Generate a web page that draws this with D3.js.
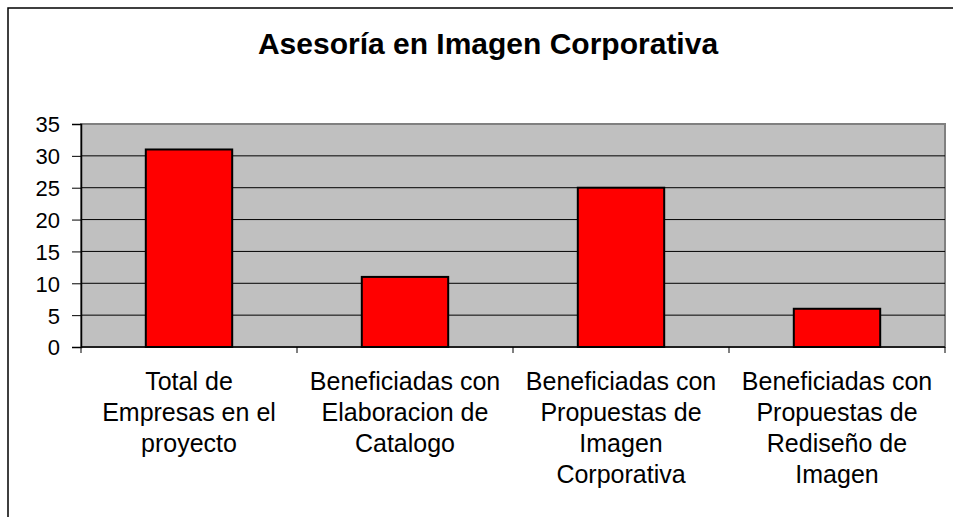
<!DOCTYPE html>
<html lang="es">
  <head>
    <meta charset="UTF-8" />
    <script src="https://d3js.org/d3.v7.min.js"></script>
    <style>
      body { margin: 0; background: #fff; }
      text { font-family: "Liberation Sans", Arial, sans-serif; fill: #000; }
    </style>
    <title>Asesoría en Imagen Corporativa</title>
  </head>
  <body>
    <svg id="chart" width="953" height="517"></svg>
    <script>
      // data
      const categories = [
        ["Total de", "Empresas en el", "proyecto"],
        ["Beneficiadas con", "Elaboracion de", "Catalogo"],
        ["Beneficiadas con", "Propuestas de", "Imagen", "Corporativa"],
        ["Beneficiadas con", "Propuestas de", "Rediseño de", "Imagen"],
      ];
      const values = [31, 11, 25, 6];
      const yTicks = [0, 5, 10, 15, 20, 25, 30, 35];
      const title = "Asesoría en Imagen Corporativa";

      const svg = d3.select("#chart");
      const plot = { left: 81, right: 945, top: 124, bottom: 347 };

      // outer chart border (right/bottom edges fall outside the picture)
      svg.append("rect")
        .attr("x", 8).attr("y", 8)
        .attr("width", 980).attr("height", 540)
        .attr("fill", "#fff")
        .attr("stroke", "#000")
        .attr("stroke-width", 1.5);

      svg.append("text")
        .attr("x", 488).attr("y", 54)
        .attr("text-anchor", "middle")
        .style("font-size", "30px")
        .style("font-weight", "bold")
        .text(title);

      const keys = categories.map((d, i) => i);
      const x = d3.scaleBand().domain(keys).range([plot.left, plot.right]).padding(0);
      const y = d3.scaleLinear().domain([0, 35]).range([plot.bottom, plot.top]);

      // plot area
      svg.append("rect")
        .attr("x", plot.left).attr("y", plot.top)
        .attr("width", plot.right - plot.left)
        .attr("height", plot.bottom - plot.top)
        .attr("fill", "#c0c0c0")
        .attr("stroke", "#808080")
        .attr("stroke-width", 2);

      // gridlines
      svg.append("g")
        .selectAll("line")
        .data(yTicks.filter(t => t > 0 && t < 35))
        .join("line")
        .attr("x1", plot.left).attr("x2", plot.right)
        .attr("y1", d => y(d)).attr("y2", d => y(d))
        .attr("stroke", "#000")
        .attr("stroke-width", 1);

      // bars
      const barW = x.bandwidth() * 0.4;
      svg.append("g")
        .selectAll("rect")
        .data(values)
        .join("rect")
        .attr("x", (d, i) => x(i) + (x.bandwidth() - barW) / 2)
        .attr("y", d => y(d))
        .attr("width", barW)
        .attr("height", d => y(0) - y(d))
        .attr("fill", "#ff0000")
        .attr("stroke", "#000")
        .attr("stroke-width", 2);

      // y axis
      const yAxis = svg.append("g")
        .attr("transform", `translate(${plot.left},0)`)
        .call(d3.axisLeft(y).tickValues(yTicks).tickSize(9).tickPadding(12));
      yAxis.select(".domain").attr("stroke", "#000").attr("stroke-width", 1.5);
      yAxis.selectAll("text")
        .style("font-size", "22px")
        .style("font-family", "'Liberation Sans', Arial, sans-serif")
        .attr("dy", "0.36em");

      // x axis: ticks at category boundaries
      svg.append("line")
        .attr("x1", plot.left).attr("x2", plot.right)
        .attr("y1", plot.bottom).attr("y2", plot.bottom)
        .attr("stroke", "#000").attr("stroke-width", 1.5);
      const bounds = keys.map(k => x(k)).concat([plot.right]);
      svg.append("g")
        .selectAll("line")
        .data(bounds)
        .join("line")
        .attr("x1", d => d).attr("x2", d => d)
        .attr("y1", plot.bottom).attr("y2", plot.bottom + 6)
        .attr("stroke", "#000");

      // category labels
      const labels = svg.append("g")
        .selectAll("text")
        .data(categories)
        .join("text")
        .attr("text-anchor", "middle")
        .style("font-size", "25px");
      labels.selectAll("tspan")
        .data((d, i) => d.map(line => ({ line, i })))
        .join("tspan")
        .attr("x", d => x(d.i) + x.bandwidth() / 2)
        .attr("y", (d, j) => 390 + j * 31)
        .text(d => d.line);
    </script>
  </body>
</html>
